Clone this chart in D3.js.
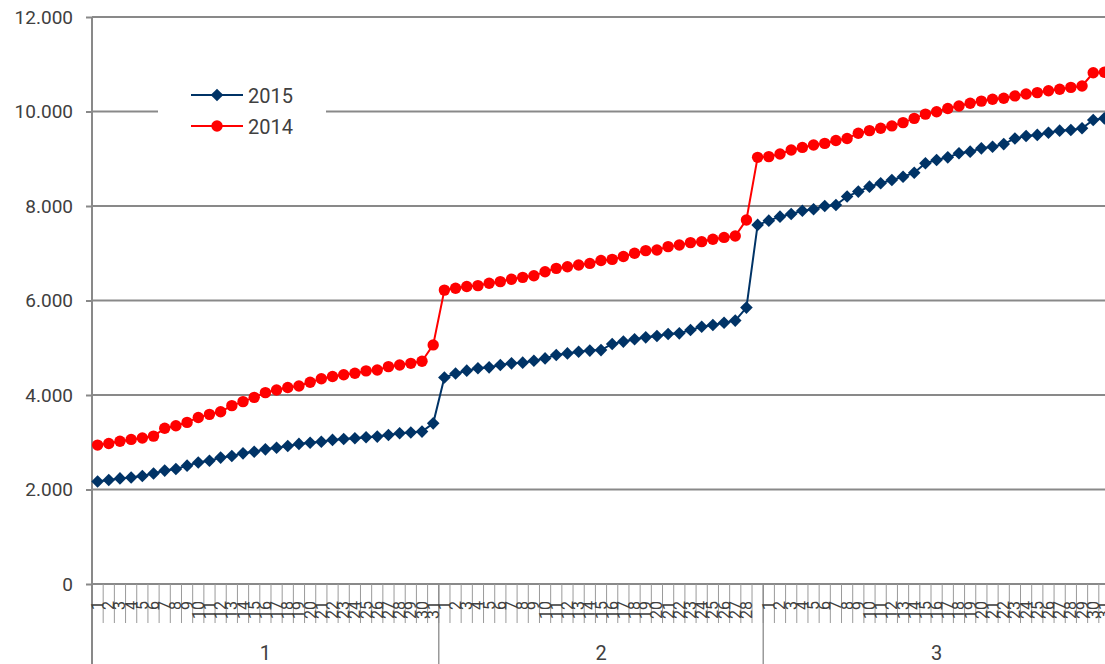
<!DOCTYPE html>
<html>
<head>
<meta charset="utf-8">
<script src="https://cdn.jsdelivr.net/npm/d3@7"></script>
<style>
  body { margin: 0; background: #fff; }
  svg { display: block; overflow: hidden; font-family: Roboto, "Noto Sans", sans-serif; }
</style>
</head>
<body>
<script>

// meses y etiquetas de dias
let months = ["1", "2", "3"];
let days1 = ["1","2","3","4","5","6","7","8","9","10","11","12","13","14","15","16","17","18","19","20","21","22","23","24","25","26","27","28","29","30","31"];
let days2 = ["1","2","3","4","5","6","7","8","9","10","11","12","13","14","15","16","17","18","19","20","21","22","23","24","25","26","27","28",""];
let days3 = ["1","2","3","4","5","6","7","8","9","10","11","12","13","14","15","16","17","18","19","20","21","22","23","24","25","26","27","28","29","30","31"];

let yTicks = [0, 2000, 4000, 6000, 8000, 10000, 12000];

let series2015 = [
  2170, 2200, 2235, 2255, 2285, 2340, 2400, 2435, 2505, 2570, 2610, 2675, 2710, 2765, 2800, 2850,
  2885, 2920, 2965, 2990, 3010, 3050, 3070, 3085, 3105, 3120, 3155, 3190, 3205, 3225, 3400,
  4370, 4455, 4515, 4565, 4585, 4635, 4670, 4685, 4725, 4775, 4845, 4880, 4915, 4940, 4950,
  5080, 5130, 5180, 5220, 5250, 5290, 5305, 5375, 5445, 5480, 5530, 5575, 5850, 7600,
  7690, 7775, 7830, 7900, 7930, 8000, 8020, 8200, 8305, 8410, 8480, 8550, 8620, 8705, 8905,
  8975, 9030, 9115, 9150, 9220, 9255, 9310, 9430, 9480, 9505, 9550, 9595, 9610, 9645, 9820, 9855
];

let series2014 = [
  2940, 2975, 3020, 3060, 3090, 3130, 3295, 3350, 3420, 3525, 3590, 3645, 3775, 3860, 3950, 4050,
  4105, 4160, 4190, 4270, 4345, 4390, 4430, 4460, 4510, 4530, 4600, 4635, 4670, 4715, 5060,
  6220, 6260, 6295, 6315, 6365, 6400, 6450, 6490, 6525, 6610, 6680, 6715, 6750, 6785, 6845,
  6870, 6930, 7000, 7055, 7070, 7140, 7175, 7225, 7245, 7295, 7335, 7365, 7705, 9030,
  9045, 9100, 9185, 9240, 9290, 9325, 9385, 9430, 9540, 9595, 9645, 9695, 9765, 9855, 9945,
  9995, 10065, 10115, 10175, 10220, 10260, 10280, 10330, 10370, 10400, 10440, 10470, 10510, 10540, 10820, 10830
];

let width = 1105, height = 664;
let gridColor = "#898989";

let svg = d3.select("body").append("svg")
    .attr("width", width)
    .attr("height", height);

// categorias: una por dia
let dayLists = [days1, days2, days3];
let cats = [];
dayLists.forEach(function (list, m) {
    list.forEach(function (d, i) {
        cats.push({ key: m + "-" + i, label: d, month: m });
    });
});

let x = d3.scaleBand()
    .domain(cats.map(function (c) { return c.key; }))
    .range([92, 1110])
    .padding(0);

let y = d3.scaleLinear().domain([0, 12000]).range([584, 17]);

let fmt = d3.formatLocale({ decimal: ",", thousands: ".", grouping: [3], currency: ["", "€"] }).format(",d");

// lineas de la grilla
svg.append("g").selectAll("line")
    .data(yTicks)
    .enter().append("line")
    .attr("x1", 92).attr("x2", width)
    .attr("y1", function (d) { return y(d); })
    .attr("y2", function (d) { return y(d); })
    .attr("stroke", gridColor)
    .attr("stroke-width", 2);

// eje y
let yAxis = svg.append("g")
    .attr("transform", "translate(92,0)")
    .call(d3.axisLeft(y).tickValues(yTicks).tickFormat(fmt).tickSize(6).tickPadding(13));
yAxis.select(".domain").remove();
yAxis.selectAll(".tick line").attr("stroke", gridColor).attr("stroke-width", 2);
yAxis.selectAll(".tick text")
    .attr("fill", "#404040")
    .style("font-size", "19px")
    .style("font-family", "Roboto, sans-serif");

svg.append("line")
    .attr("x1", 92).attr("x2", 92)
    .attr("y1", 17).attr("y2", height)
    .attr("stroke", gridColor).attr("stroke-width", 2);

// marcas de categoria
let bounds = cats.map(function (c) { return x(c.key); });
svg.append("g").selectAll("line")
    .data(bounds.slice(1))
    .enter().append("line")
    .attr("x1", function (d) { return d; })
    .attr("x2", function (d) { return d; })
    .attr("y1", 584).attr("y2", 623)
    .attr("stroke", "#9a9a9a")
    .attr("stroke-width", 1);

// separadores de mes
let monthStarts = [];
cats.forEach(function (c, i) {
    if (i > 0 && c.month !== cats[i - 1].month) monthStarts.push(x(c.key));
});
svg.append("g").selectAll("line")
    .data(monthStarts)
    .enter().append("line")
    .attr("x1", function (d) { return d; })
    .attr("x2", function (d) { return d; })
    .attr("y1", 584).attr("y2", height)
    .attr("stroke", "#8a8a8a")
    .attr("stroke-width", 1.3);

// etiquetas de dias (rotadas)
svg.append("g").selectAll("text")
    .data(cats)
    .enter().append("text")
    .text(function (d) { return d.label; })
    .attr("transform", function (d) {
        return "translate(" + (x(d.key) + x.bandwidth() / 2 + 5.5) + ",601) rotate(-90)";
    })
    .attr("text-anchor", "end")
    .attr("fill", "#404040")
    .style("font-size", "16px");

// etiquetas de mes
let monthCenters = months.map(function (m, i) {
    let list = cats.filter(function (c) { return c.month === i; });
    let a = x(list[0].key), b = x(list[list.length - 1].key) + x.bandwidth();
    return { label: m, x: (a + b) / 2 };
});
svg.append("g").selectAll("text")
    .data(monthCenters)
    .enter().append("text")
    .text(function (d) { return d.label; })
    .attr("x", function (d) { return d.x; })
    .attr("y", 660)
    .attr("text-anchor", "middle")
    .attr("fill", "#404040")
    .style("font-size", "20px");

// lineas de series
let cx = function (d, i) { return x(cats[i].key) + x.bandwidth() / 2; };
let line = d3.line()
    .x(function (d, i) { return cx(d, i); })
    .y(function (d) { return y(d); });

let seriesList = [
    { name: "2014", values: series2014, color: "#ff0000", marker: "circle" },
    { name: "2015", values: series2015, color: "#003366", marker: "diamond" }
];

let diamond = function (px, py, r) {
    return "M" + px + "," + (py - r) + "L" + (px + r) + "," + py + "L" + px + "," + (py + r) + "L" + (px - r) + "," + py + "Z";
};

seriesList.forEach(function (s) {
    svg.append("path")
        .datum(s.values)
        .attr("d", line)
        .attr("fill", "none")
        .attr("stroke", s.color)
        .attr("stroke-width", 2);

    if (s.marker === "circle") {
        svg.append("g").selectAll("circle")
            .data(s.values)
            .enter().append("circle")
            .attr("cx", function (d, i) { return cx(d, i); })
            .attr("cy", function (d) { return y(d); })
            .attr("r", 5.7)
            .attr("fill", s.color);
    } else {
        svg.append("g").selectAll("path")
            .data(s.values)
            .enter().append("path")
            .attr("d", function (d, i) { return diamond(cx(d, i), y(d), 6.3); })
            .attr("fill", s.color);
    }
});

// leyenda
let legend = svg.append("g");
legend.append("rect")
    .attr("x", 158).attr("y", 78)
    .attr("width", 168).attr("height", 66)
    .attr("fill", "#fff");

let legendItems = [
    { name: "2015", color: "#003366", marker: "diamond", y: 95 },
    { name: "2014", color: "#ff0000", marker: "circle", y: 126 }
];
legendItems.forEach(function (d) {
    legend.append("line")
        .attr("x1", 191).attr("x2", 243)
        .attr("y1", d.y).attr("y2", d.y)
        .attr("stroke", d.color).attr("stroke-width", 2);
    if (d.marker === "circle") {
        legend.append("circle").attr("cx", 217).attr("cy", d.y).attr("r", 5.7).attr("fill", d.color);
    } else {
        legend.append("path").attr("d", diamond(217, d.y, 6.3)).attr("fill", d.color);
    }
    legend.append("text")
        .text(d.name)
        .attr("x", 248).attr("y", d.y + 7.5)
        .attr("fill", "#404040")
        .style("font-size", "20px");
});

</script>
</body>
</html>
